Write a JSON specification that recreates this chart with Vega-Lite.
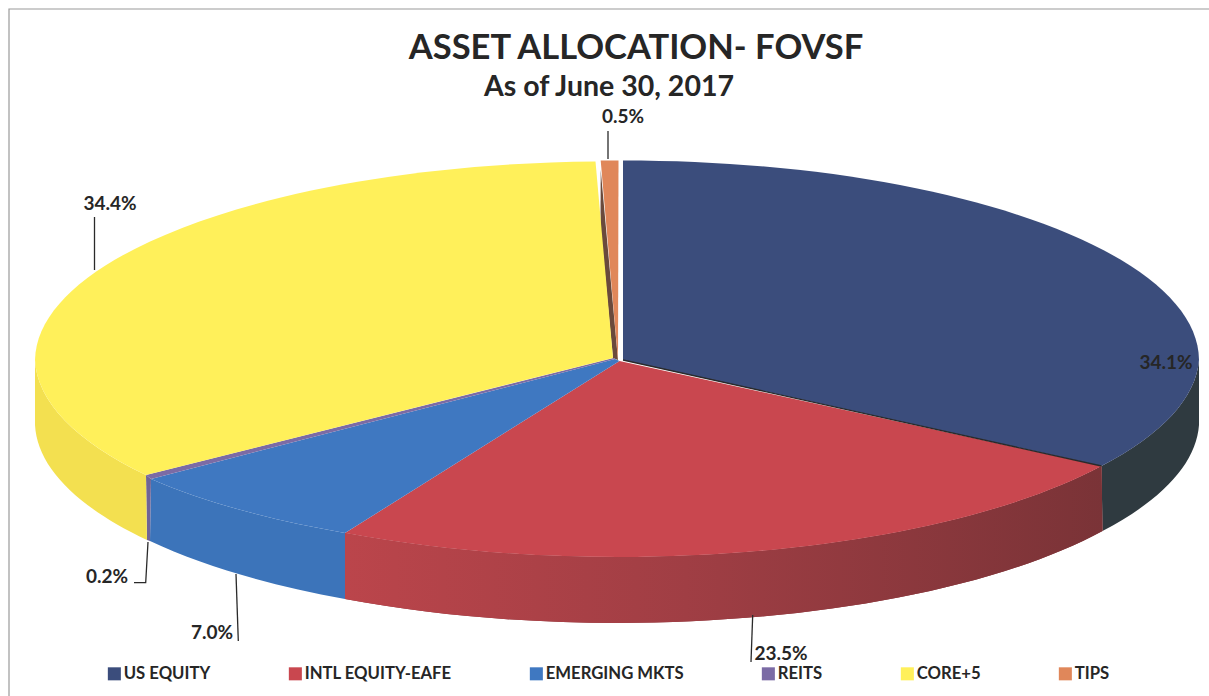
{
"$schema":"https://vega.github.io/schema/vega-lite/v6.json",
"width":1209,"height":696,"padding":0,"autosize":{"type":"none"},"background":"#ffffff",
"view":{"stroke":null},
"title":{"text":"ASSET ALLOCATION- FOVSF","anchor":"middle","dx":31.5,"offset":-93,"baseline":"alphabetic","font":"Lato","fontSize":34.5,"fontWeight":"bold","color":"#262626"},
"data":{"values":[
{"slice":"US EQUITY","share":34.1,"label":"34.1%"},
{"slice":"INTL EQUITY-EAFE","share":23.5,"label":"23.5%"},
{"slice":"EMERGING MKTS","share":7.0,"label":"7.0%"},
{"slice":"REITS","share":0.2,"label":"0.2%"},
{"slice":"CORE+5","share":34.4,"label":"34.4%"},
{"slice":"TIPS","share":0.5,"label":"0.5%"}
]},
"resolve":{"scale":{"x":"independent","y":"independent","color":"independent","shape":"independent"}},
"layer":[
{"data":{"values":[{"frame":"border"}]},"mark":{"type":"point","shape":"M-595.5,348 L-595.5,-339 L604.5,-339","size":4,"stroke":"#9a9a9a","strokeWidth":1.2,"fill":"transparent","opacity":1},"encoding":{}},
{"mark":{"type":"point","filled":true,"opacity":1,"size":4,"strokeWidth":0},
 "encoding":{
  "shape":{"field":"slice","type":"nominal","legend":null,"scale":{"domain":["US EQUITY","INTL EQUITY-EAFE","EMERGING MKTS","REITS","CORE+5","TIPS"],"range":[
   "M497,118 A576,200 0 0 0 594.5,12 L594.5,77 A576,200 0 0 1 498,183 Z",
   "M497,118 A576,200 0 0 1 -259.5,185 L-259.5,251 A576,200 0 0 0 498,183 Z",
   "M-259.5,185 A576,200 0 0 1 -453.5,131 L-454.5,193 A576,200 0 0 0 -259.5,251 Z",
   "M-458.5,127 L-453.5,131 L-454.5,193 L-457.5,192 Z",
   "M-458.5,127 A576,200 0 0 1 -569.5,12 L-569.5,77 A576,200 0 0 0 -457.5,192 Z",
   "M-3.8,-178 L-4,-120 L8.5,10 L13.5,12 Z"]}},
  "color":{"field":"slice","type":"nominal","legend":null,"scale":{"domain":["US EQUITY","INTL EQUITY-EAFE","EMERGING MKTS","REITS","CORE+5","TIPS"],"range":["#2f3a40","#8a383d","#3c74ba","#6f6496","#f3e050","#6a4a3c"]}}
 }},
{"transform":[{"filter":"datum.slice === 'INTL EQUITY-EAFE'"}],
 "mark":{"type":"point","filled":true,"opacity":1,"size":4,"strokeWidth":0,"shape":"M497,118 A576,200 0 0 1 -259.5,185 L-259.5,251 A576,200 0 0 0 498,183 Z",
  "fill":{"gradient":"linear","x1":0,"y1":0,"x2":1,"y2":0,"stops":[{"offset":0,"color":"#bb454b"},{"offset":0.45,"color":"#a03e44"},{"offset":1,"color":"#7a3337"}]}},
 "encoding":{}},
{"mark":{"type":"point","filled":true,"opacity":1,"size":4,"strokeWidth":0},
 "encoding":{
  "shape":{"field":"slice","type":"nominal","legend":null,"scale":{"domain":["US EQUITY","INTL EQUITY-EAFE","EMERGING MKTS","REITS","CORE+5","TIPS"],"range":[
   "M18.5,12 L18.5,-187.5 A576,200 0 0 1 594.5,12 A576,200 0 0 1 497,118 Z",
   "M15,13 L497,118 A576,200 0 0 1 -259.5,185 Z",
   "M10.5,11 L15,13 L-259.5,185 A576,200 0 0 1 -453.5,131 Z",
   "M9,10 L10.5,11 L-453.5,131 L-458.5,127 Z",
   "M8.5,10 L-458.5,127 A576,200 0 0 1 -569.5,12 A576,200 0 0 1 -9,-186.5 Z",
   "M13.5,12 L-3.8,-187.5 L14,-187.5 Z"]}},
  "color":{"field":"slice","type":"nominal","legend":null,"scale":{"domain":["US EQUITY","INTL EQUITY-EAFE","EMERGING MKTS","REITS","CORE+5","TIPS"],"range":["#3b4d7c","#c9474f","#3f78c1","#7b6ba5","#fff05a","#e0875a"]}}
 }},
{"mark":{"type":"point","size":4,"stroke":"#2a2a2a","strokeWidth":1.3,"fill":"transparent","opacity":1},
 "encoding":{
  "shape":{"field":"slice","type":"nominal","legend":null,"scale":{"domain":["US EQUITY","INTL EQUITY-EAFE","EMERGING MKTS","REITS","CORE+5","TIPS"],"range":[
   "M18.5,12 L497,118",
   "M148.2,267 L146.5,314",
   "M-368.5,226 L-366.2,293",
   "M-456.5,194 L-458.8,234.7 L-470.5,234.7",
   "M-510,-131 L-510,-78",
   "M3.5,-217 L3.5,-189"]}}
 }},
{"mark":{"type":"point","filled":true,"shape":"square","size":0,"opacity":1},
 "encoding":{
  "color":{"field":"slice","type":"nominal","sort":null,"scale":{"domain":["US EQUITY","INTL EQUITY-EAFE","EMERGING MKTS","REITS","CORE+5","TIPS"],"range":["#3b4d7c","#c9474f","#3f78c1","#7b6ba5","#fff05a","#e0875a"]},
   "legend":{"title":null,"orient":"none","legendX":106,"legendY":665,"direction":"horizontal","columns":6,"gridAlign":"each","columnPadding":76,"symbolType":"square","symbolSize":170,"symbolStrokeWidth":0,"symbolOpacity":1,"labelFont":"Lato","labelFontSize":16.7,"labelFontWeight":"bold","labelColor":"#262626","labelOffset":1,"labelLimit":400}}
 }},
{"mark":{"type":"text","font":"Lato","fontSize":19,"fontWeight":"bold","color":"#262626","baseline":"middle","align":"center"},
 "encoding":{
  "x":{"field":"share","type":"quantitative","axis":null,"scale":{"domain":[0.2,0.5,7,23.5,34.1,34.4],"range":[107,623,212,781,1166,110],"nice":false,"zero":false}},
  "y":{"field":"share","type":"quantitative","axis":null,"scale":{"domain":[0.2,0.5,7,23.5,34.1,34.4],"range":[577,117,633,654,363,204],"nice":false,"zero":false}},
  "text":{"field":"label","type":"nominal"}
 }},
{"data":{"values":[{"subtitle":"As of June 30, 2017"}]},
 "mark":{"type":"text","font":"Lato","fontSize":28.5,"fontWeight":"bold","color":"#262626","baseline":"middle","align":"center","dx":4.5,"dy":-261},
 "encoding":{"text":{"field":"subtitle","type":"nominal"}}}
]}
